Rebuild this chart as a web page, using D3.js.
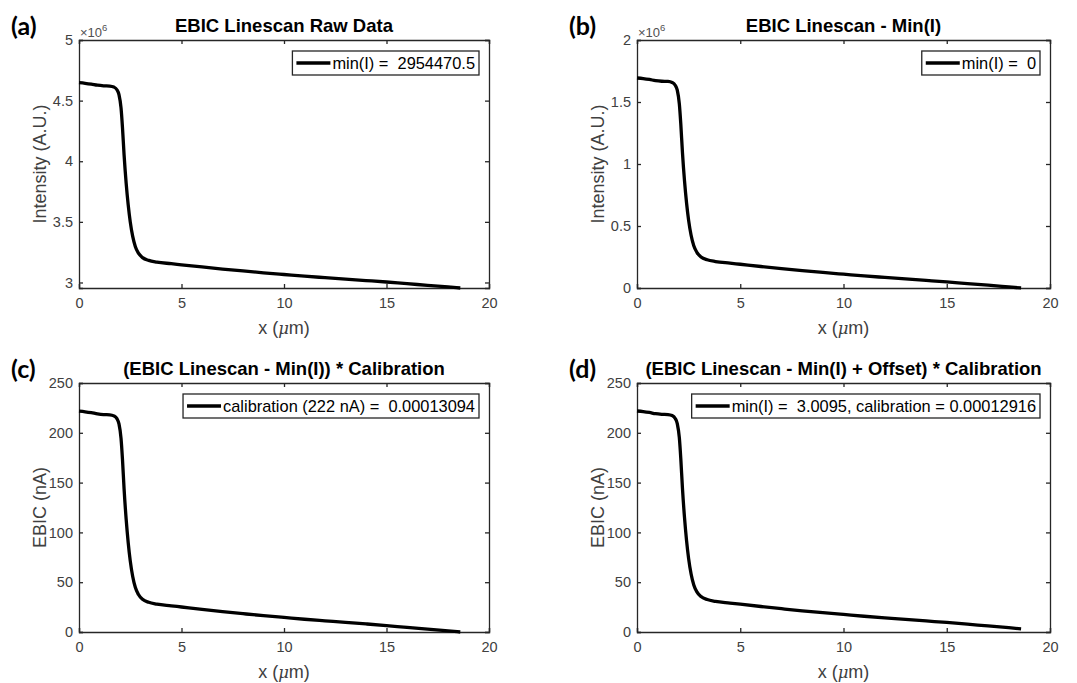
<!DOCTYPE html>
<html>
<head>
<meta charset="utf-8">
<script src="https://cdn.jsdelivr.net/npm/d3@7"></script>
<style>
  html, body { margin: 0; padding: 0; background: #fff; }
  svg { display: block; }
  text { font-family: "Liberation Sans", Arial, sans-serif; }
</style>
</head>
<body>
<svg id="chart" width="1077" height="683"></svg>
<script>
// ---- data ----
const xPos = [0, 0.3, 0.6, 0.9, 1.2, 1.5, 1.7, 1.85, 1.95, 2.05, 2.12, 2.2, 2.3, 2.4, 2.5, 2.62, 2.75, 2.9, 3.1, 3.4, 3.8, 4.5, 5, 6, 7, 8, 9, 10, 11, 12, 13, 14, 15, 16, 17, 18, 18.6];
// (a) raw intensity, x10^6
const rawIntensity = [4.648, 4.643, 4.636, 4.627, 4.622, 4.620, 4.612, 4.590, 4.550, 4.440, 4.280, 4.050, 3.820, 3.640, 3.500, 3.380, 3.295, 3.242, 3.205, 3.182, 3.168, 3.155, 3.146, 3.128, 3.111, 3.095, 3.080, 3.066, 3.052, 3.040, 3.028, 3.016, 3.004, 2.990, 2.977, 2.963, 2.9545];
// (b) intensity minus min, x10^6
const minusMin = [1.6935, 1.6885, 1.6815, 1.6725, 1.6675, 1.6655, 1.6575, 1.6355, 1.5955, 1.4855, 1.3255, 1.0955, 0.8655, 0.6855, 0.5455, 0.4255, 0.3405, 0.2875, 0.2505, 0.2275, 0.2135, 0.2005, 0.1915, 0.1735, 0.1565, 0.1405, 0.1255, 0.1115, 0.0975, 0.0855, 0.0735, 0.0615, 0.0495, 0.0355, 0.0225, 0.0085, 0];
// (c) calibrated EBIC, nA
const calibrated = [221.7, 221.1, 220.2, 219.0, 218.3, 218.1, 217.0, 214.2, 208.9, 194.5, 173.6, 143.4, 113.3, 89.8, 71.4, 55.7, 44.6, 37.6, 32.8, 29.8, 28.0, 26.3, 25.1, 22.7, 20.5, 18.4, 16.4, 14.6, 12.8, 11.2, 9.6, 8.1, 6.5, 4.6, 2.9, 1.1, 0];
// (d) offset + calibrated EBIC, nA
const offsetCalibrated = [221.9, 221.3, 220.4, 219.2, 218.6, 218.3, 217.3, 214.4, 209.3, 195.1, 174.4, 144.7, 115.0, 91.7, 73.7, 58.2, 47.2, 40.3, 35.6, 32.6, 30.8, 29.1, 27.9, 25.6, 23.4, 21.3, 19.4, 17.6, 15.8, 14.2, 12.7, 11.1, 9.6, 7.8, 6.1, 4.3, 3.2];

const xTicks = [0, 5, 10, 15, 20];
const yTicksA = [3, 3.5, 4, 4.5, 5];
const yTicksB = [0, 0.5, 1, 1.5, 2];
const yTicksC = [0, 50, 100, 150, 200, 250];

const panelLetters = ["(a)", "(b)", "(c)", "(d)"];
const titles = ["EBIC Linescan Raw Data", "EBIC Linescan - Min(I)", "(EBIC Linescan - Min(I)) * Calibration", "(EBIC Linescan - Min(I) + Offset) * Calibration"];
const legendTexts = ["min(I) =  2954470.5", "min(I) =  0", "calibration (222 nA) =  0.00013094", "min(I) =  3.0095, calibration = 0.00012916"];
const yLabels = ["Intensity (A.U.)", "Intensity (A.U.)", "EBIC (nA)", "EBIC (nA)"];

// ---- layout ----
const svg = d3.select("#chart");
const boxes = [
  {l: 79, r: 489, t: 40, b: 288},
  {l: 637, r: 1050, t: 40, b: 288},
  {l: 79, r: 489, t: 383, b: 632},
  {l: 637, r: 1050, t: 383, b: 632}
];
const panels = [
  {vals: rawIntensity, dom: [2.9545, 5], ticks: yTicksA, exp: true},
  {vals: minusMin, dom: [0, 2], ticks: yTicksB, exp: true},
  {vals: calibrated, dom: [0, 250], ticks: yTicksC, exp: false},
  {vals: offsetCalibrated, dom: [0, 250], ticks: yTicksC, exp: false}
];
const axisColor = "#262626";
const tickColor = "#404040";
const FONT = "'Liberation Sans', Arial, sans-serif";

panels.forEach((p, i) => {
  const bx = boxes[i];
  const x = d3.scaleLinear().domain([0, 20]).range([bx.l, bx.r]);
  const y = d3.scaleLinear().domain(p.dom).range([bx.b, bx.t]);
  const g = svg.append("g");
  const tl = 4;

  const fmt = d => String(d);
  const bottom = g.append("g").attr("transform", `translate(0,${bx.b})`)
    .call(d3.axisBottom(x).tickValues(xTicks).tickSize(-tl).tickPadding(10).tickFormat(fmt));
  const top = g.append("g").attr("transform", `translate(0,${bx.t})`)
    .call(d3.axisTop(x).tickValues(xTicks).tickSize(-tl).tickFormat(""));
  const left = g.append("g").attr("transform", `translate(${bx.l},0)`)
    .call(d3.axisLeft(y).tickValues(p.ticks).tickSize(-tl).tickPadding(6).tickFormat(fmt));
  const right = g.append("g").attr("transform", `translate(${bx.r},0)`)
    .call(d3.axisRight(y).tickValues(p.ticks).tickSize(-tl).tickFormat(""));
  [bottom, top, left, right].forEach(a => {
    a.select(".domain").attr("stroke", axisColor).attr("stroke-width", 1.3);
    a.selectAll(".tick line").attr("stroke", axisColor).attr("stroke-width", 1.3);
    a.selectAll(".tick text").attr("fill", tickColor).style("font-size", "14.5px")
      .style("font-family", FONT);
  });

  // curve
  const line = d3.line().x((d, k) => x(xPos[k])).y(d => y(d)).curve(d3.curveMonotoneX);
  g.append("path").datum(p.vals).attr("d", line)
    .attr("fill", "none").attr("stroke", "#000").attr("stroke-width", 3.3)
    .attr("stroke-linejoin", "round").attr("stroke-linecap", "butt");

  // exponent label
  if (p.exp) {
    const t = g.append("text").attr("x", bx.l + 1).attr("y", bx.t - 3)
      .attr("fill", "#505050").style("font-size", "13px");
    t.append("tspan").text("\u00D710");
    t.append("tspan").attr("dy", -6).style("font-size", "9.5px").text("6");
  }

  // title
  g.append("text").attr("x", (bx.l + bx.r) / 2).attr("y", bx.t - 8)
    .attr("text-anchor", "middle").attr("fill", "#000")
    .style("font-size", "18.5px").style("font-weight", "bold").text(titles[i]);

  // panel letter
  g.append("text").attr("x", bx.l - 68).attr("y", bx.t - 5)
    .attr("fill", "#000").style("font-family", "Lato, 'Liberation Sans', sans-serif")
    .style("font-size", "25px").style("font-weight", "bold").text(panelLetters[i]);

  // x label
  const xl = g.append("text").attr("x", (bx.l + bx.r) / 2).attr("y", bx.b + 46)
    .attr("text-anchor", "middle").attr("fill", tickColor).style("font-size", "18px");
  xl.append("tspan").text("x (");
  xl.append("tspan").style("font-style", "italic").style("font-family", "'DejaVu Serif', serif").style("font-size", "16.5px").text("\u03BC");
  xl.append("tspan").text("m)");

  // y label
  g.append("text").attr("transform", `translate(${bx.l - 33},${(bx.t + bx.b) / 2}) rotate(-90)`)
    .attr("text-anchor", "middle").attr("fill", tickColor).style("font-size", "18px").text(yLabels[i]);

  // legend
  const lg = g.append("g");
  const lt = lg.append("text").attr("y", bx.t + 29).attr("fill", "#000")
    .style("font-size", "16.4px").attr("xml:space", "preserve").style("white-space", "pre")
    .text(legendTexts[i]);
  const tw = lt.node().getComputedTextLength();
  const boxR = bx.r - 10;
  const boxL = boxR - tw - 4 - 40;
  lt.attr("x", boxL + 40);
  lg.insert("rect", "text").attr("x", boxL).attr("y", bx.t + 11).attr("width", boxR - boxL).attr("height", 24)
    .attr("fill", "#fff").attr("stroke", axisColor).attr("stroke-width", 1.3);
  lg.append("line").attr("x1", boxL + 4).attr("x2", boxL + 38).attr("y1", bx.t + 23).attr("y2", bx.t + 23)
    .attr("stroke", "#000").attr("stroke-width", 3.3);
});
</script>
</body>
</html>
